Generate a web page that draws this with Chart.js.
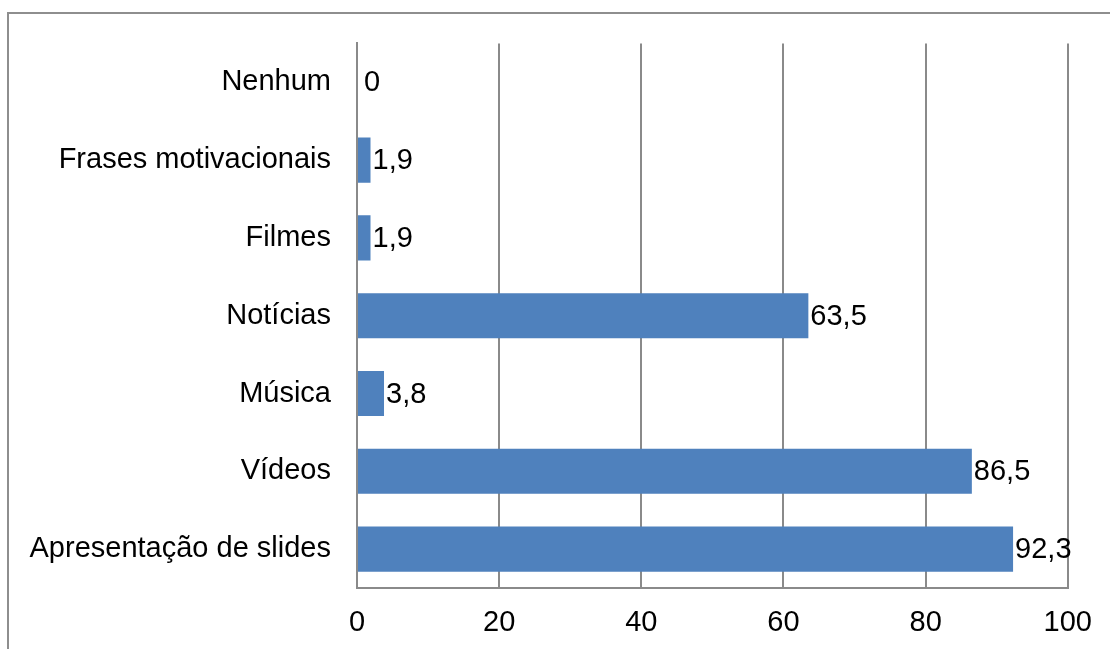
<!DOCTYPE html>
<html>
<head>
<meta charset="utf-8">
<script src="https://cdn.jsdelivr.net/npm/chart.js@4/dist/chart.umd.min.js"></script>
<style>
  html, body { margin: 0; padding: 0; background: #fff; overflow: hidden; }
  #wrap { position: relative; width: 1110px; height: 649px; }
  #frame { position: absolute; left: 7px; top: 12px; width: 1200px; height: 800px; border: 2px solid #8e8e8e; box-sizing: border-box; }
  canvas { position: absolute; left: 0; top: 0; }
</style>
</head>
<body>
<div id="wrap">
  <div id="frame"></div>
  <canvas id="c" width="1110" height="649"></canvas>
</div>
<script>
const categories = ["Nenhum", "Frases motivacionais", "Filmes", "Notícias", "Música", "Vídeos", "Apresentação de slides"];
const values = [0, 1.9, 1.9, 63.5, 3.8, 86.5, 92.3];
const xTicks = [0, 20, 40, 60, 80, 100];

const FONT = "'Liberation Sans', Arial, sans-serif";
const FSIZE = 29;
const gridColor = '#8a8a8a';

const labelPlugin = {
  id: 'valueLabels',
  afterDatasetsDraw(chart) {
    const ctx = chart.ctx;
    const meta = chart.getDatasetMeta(0);
    ctx.save();
    ctx.font = FSIZE + 'px ' + FONT;
    ctx.fillStyle = '#000';
    ctx.textAlign = 'left';
    ctx.textBaseline = 'middle';
    meta.data.forEach((bar, i) => {
      const v = values[i];
      const txt = String(v).replace('.', ',');
      const off = v === 0 ? 7 : 2;
      ctx.fillText(txt, bar.x + off, bar.y + 1);
    });
    ctx.restore();
  }
};

new Chart(document.getElementById('c'), {
  type: 'bar',
  data: {
    labels: categories,
    datasets: [{
      data: values,
      backgroundColor: '#4F81BD',
      borderWidth: 0,
      barPercentage: 0.58,
      categoryPercentage: 1.0
    }]
  },
  options: {
    indexAxis: 'y',
    responsive: false,
    animation: false,
    devicePixelRatio: 1,
    layout: { padding: { top: 43, right: 40, left: 0, bottom: 0 } },
    plugins: { legend: { display: false }, tooltip: { enabled: false } },
    scales: {
      x: {
        min: 0, max: 100,
        afterBuildTicks(scale) { scale.ticks = xTicks.map(v => ({ value: v })); },
        afterFit(scale) { scale.height = 61; },
        grid: { color: gridColor, lineWidth: 2, drawTicks: false },
        border: { display: true, color: gridColor, width: 2 },
        ticks: { color: '#000', font: { family: FONT, size: FSIZE }, padding: 18, maxRotation: 0 }
      },
      y: {
        afterFit(scale) { scale.width = 357; },
        grid: { display: false, drawTicks: false },
        border: { display: true, color: gridColor, width: 2 },
        ticks: { color: '#000', font: { family: FONT, size: FSIZE }, padding: 26 }
      }
    }
  },
  plugins: [labelPlugin]
});
</script>
</body>
</html>
